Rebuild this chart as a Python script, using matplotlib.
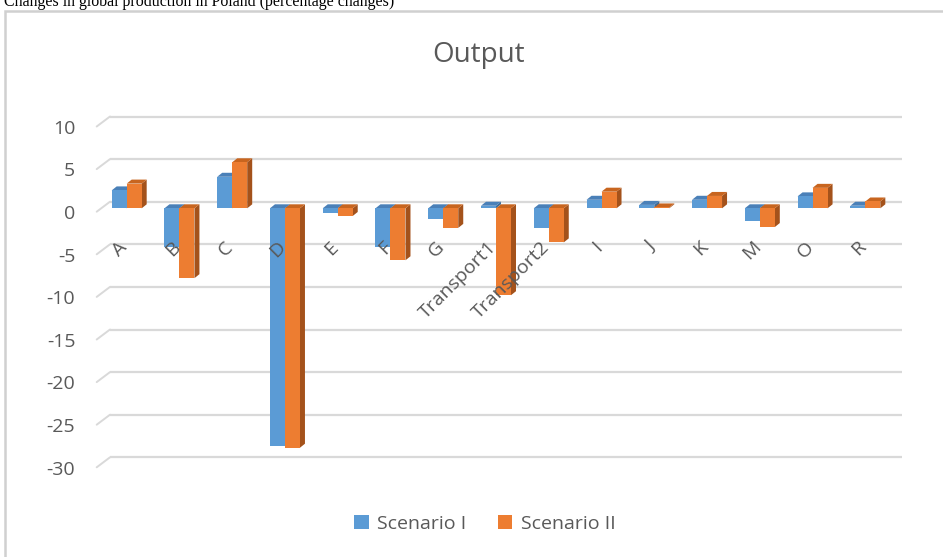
import matplotlib
matplotlib.use("Agg")
import matplotlib.pyplot as plt
from matplotlib.patches import Polygon
from matplotlib.transforms import ScaledTranslation, blended_transform_factory

# ---- data -------------------------------------------------------------
categories = ["A", "B", "C", "D", "E", "F", "G", "Transport1", "Transport2",
              "I", "J", "K", "M", "O", "R"]
scenario_1 = [2.1, -4.5, 3.7, -27.9, -0.6, -4.5, -1.2, 0.3, -2.3,
              1.0, 0.4, 1.0, -1.5, 1.4, 0.3]
scenario_2 = [2.9, -8.2, 5.4, -28.1, -0.9, -6.1, -2.3, -10.2, -4.0,
              1.95, 0.1, 1.45, -2.2, 2.4, 0.8]
series_names = ["Scenario I", "Scenario II"]
y_ticks = [10, 5, 0, -5, -10, -15, -20, -25, -30]
chart_title = "Output"
caption = "Changes in global production in Poland (percentage changes)"

# ---- style ------------------------------------------------------------
W, H, DPI = 943, 557, 100
FRONT = ["#5B9BD5", "#ED7D31"]
TOP = ["#4A80B8", "#C8651F"]
SIDE = ["#3E6C98", "#A4521B"]
TEXT = "#595959"
GRID = "#D9D9D9"
FONT = ["Open Sans", "DejaVu Sans"]
LABEL_SIZE = 14

DEPTH_X, DEPTH_Y = 5.0, 4.0          # bar depth in pixels
BAR_PX = 15.0                        # front width of one bar
PLOT_L, PLOT_R = 100.3, 891.7        # plot area in pixels (from left)
PLOT_T, PLOT_B = 108.0, 470.0        # plot area in pixels (from top)
ZERO_PX = 208.3                      # y of the value 0 (from top)
PX_PER_UNIT = 8.52

fig = plt.figure(figsize=(W / DPI, H / DPI), dpi=DPI)
fig.patch.set_facecolor("white")

ax = fig.add_axes([PLOT_L / W, (H - PLOT_B) / H,
                   (PLOT_R - PLOT_L) / W, (PLOT_B - PLOT_T) / H])
ax.set_xlim(-0.5, len(categories) - 0.5)
ax.set_ylim(-(PLOT_B - ZERO_PX) / PX_PER_UNIT, (ZERO_PX - PLOT_T) / PX_PER_UNIT)
ax.axis("off")


def shifted(dx_px, dy_px, base):
    return base + ScaledTranslation(dx_px / DPI, dy_px / DPI, fig.dpi_scale_trans)


# ---- back wall gridlines with the slanted floor edge on the left --------
gx = blended_transform_factory(ax.transAxes, ax.transData)
ax_w = PLOT_R - PLOT_L
x_front = (96.7 - PLOT_L) / ax_w
x_back = (110.0 - PLOT_L) / ax_w
x_end = (901.7 - PLOT_L) / ax_w
for v in y_ticks:
    ax.plot([x_back, x_end], [v, v], color=GRID, lw=1.6, zorder=0,
            transform=shifted(0, 6.6, gx), clip_on=False, solid_capstyle="butt")
    # slanted floor edge: front end lower, back end meets the wall line
    ax.annotate("", xy=(x_back, v), xycoords=shifted(0, 6.6, gx),
                xytext=(x_front, v), textcoords=shifted(0, -3.4, gx),
                arrowprops=dict(arrowstyle="-", color=GRID, lw=1.4,
                                shrinkA=0, shrinkB=0))
    ax.text(-0.5, v, f"{v}", transform=shifted(-25, -5.7, ax.transData),
            ha="right", va="center", fontsize=LABEL_SIZE, color=TEXT, family=FONT)

# ---- 3D bars ------------------------------------------------------------
unit_x = (PLOT_R - PLOT_L) / len(categories)
bw = BAR_PX / unit_x
ddx = DEPTH_X / unit_x
ddy = DEPTH_Y / PX_PER_UNIT

for s, vals in enumerate([scenario_1, scenario_2]):
    xs = [i - bw + s * bw for i in range(len(categories))]
    z = 2 + 2 * s
    for x0, v in zip(xs, vals):
        x1 = x0 + bw
        top = max(v, 0.0)
        lo, hi = min(v, 0.0), max(v, 0.0)
        ax.add_patch(Polygon([(x1, lo), (x1, hi), (x1 + ddx, hi + ddy),
                              (x1 + ddx, lo + ddy)], closed=True,
                             facecolor=SIDE[s], edgecolor="none", zorder=z))
        ax.add_patch(Polygon([(x0, top), (x1, top), (x1 + ddx, top + ddy),
                              (x0 + ddx, top + ddy)], closed=True,
                             facecolor=TOP[s], edgecolor="none", zorder=z))
    ax.bar(xs, vals, width=bw, align="edge", color=FRONT[s],
           edgecolor="none", zorder=z + 1, label=series_names[s])

# ---- category labels ------------------------------------------------------
for i, name in enumerate(categories):
    ax.text(i, 0, name, transform=shifted(-2, -36, ax.transData),
            rotation=45, rotation_mode="anchor", ha="right", va="center",
            fontsize=LABEL_SIZE, color=TEXT, family=FONT, zorder=10)

# ---- title, legend, frame, caption ----------------------------------------
fig.text(479 / W, 1 - 55 / H, chart_title, ha="center", va="center",
         fontsize=20, color=TEXT, family=FONT)

leg = fig.legend(loc="center", bbox_to_anchor=(485 / W, 1 - 524 / H),
                 ncol=2, frameon=False, handlelength=0.75, handleheight=0.75,
                 handletextpad=0.45, columnspacing=1.6,
                 prop={"family": FONT, "size": LABEL_SIZE})
for t in leg.get_texts():
    t.set_color(TEXT)

frame = plt.Rectangle((5 / W, -0.05), 1.2, 1 - 11 / H + 0.05,
                      transform=fig.transFigure, fill=False,
                      edgecolor="#D0D0D0", lw=1.8, zorder=0)
fig.add_artist(frame)

fig.text(4 / W, 1 - 6.5 / H, caption, ha="left", va="baseline",
         fontsize=11.4, color="black", family=["Liberation Serif", "DejaVu Serif"])

fig.savefig("out.png", dpi=DPI, facecolor="white")
